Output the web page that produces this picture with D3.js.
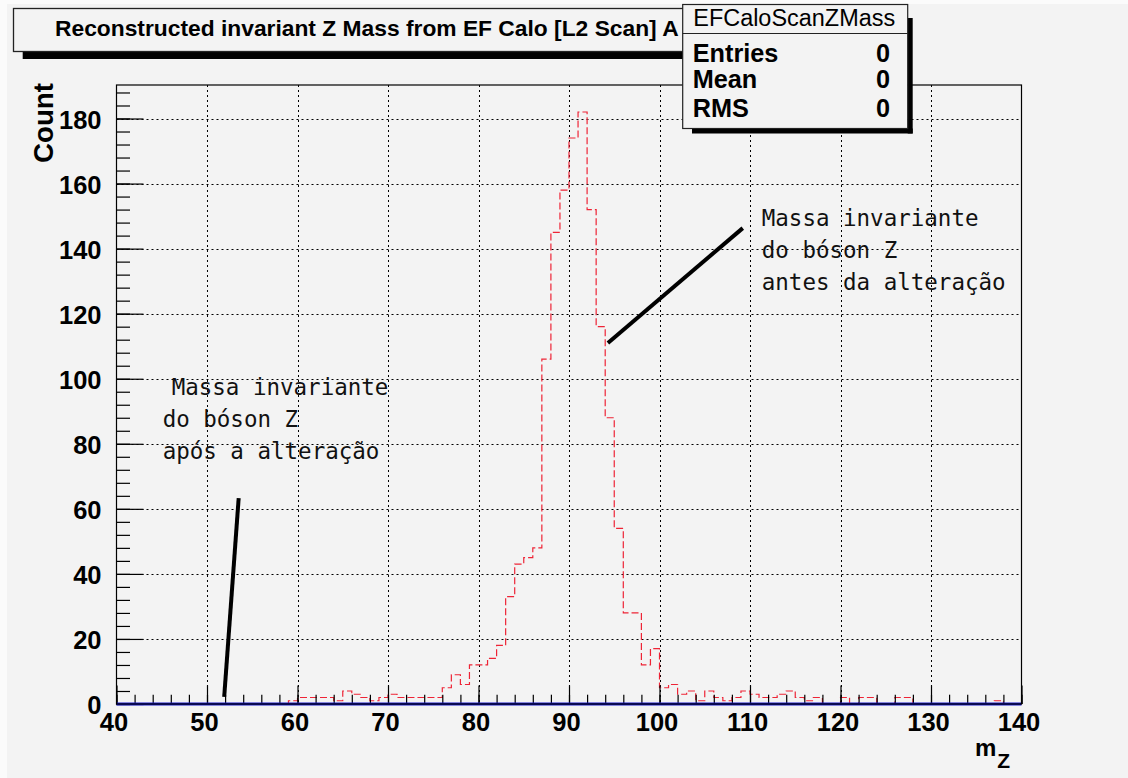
<!DOCTYPE html>
<html><head><meta charset="utf-8">
<script src="https://cdn.jsdelivr.net/npm/d3@7/dist/d3.min.js"></script>
<style>body{margin:0;background:#fff;overflow:hidden} svg{display:block}</style>
</head><body>
<svg id="c" width="1128" height="778"></svg>
<script>
// ---------------- data ----------------
const xDomain = [40, 140];
const yDomain = [0, 190.3];
const binStarts = d3.range(40, 140, 1); // 1-unit bins, lower edges
const redCounts = [
  0,0,0,0,0,0,0,0,0,0,
  0,0,0,0,0,0,0,0,0,1,
  2,2,2,2,1,4,3,2,1,2,
  3,2,2,2,2,2,5,9,6,12,
  12,14,18,33,43,45,48,106,145,158,
  174,182,152,116,88,54,28,28,12,17,
  5,6,3,4,1,4,2,1,2,4,
  3,2,2,3,4,2,1,2,0,0,
  2,0,2,2,0,0,2,2,0,0,
  0,0,0,0,0,0,0,1,0,0
];
const blueCounts = binStarts.map(() => 0);
const xMajorTicks = [40,50,60,70,80,90,100,110,120,130,140];
const xMinorTicks = d3.range(40, 141, 2);
const yMajorTicks = [0,20,40,60,80,100,120,140,160,180];
const yMinorTicks = d3.range(0, 190, 4);
const titleText = "Reconstructed invariant Z Mass from EF Calo [L2 Scan] A";
const statsName = "EFCaloScanZMass";
const statsLabels = ["Entries", "Mean", "RMS"];
const statsValues = ["0", "0", "0"];
const yTitle = "Count";
const xTitle = "m";
const xTitleSub = "Z";
const annAfter = { x: 45.1, y: 95, lines: ["Massa invariante", "do bóson Z", "após a alteração"], dx: [1, 0, 0],
                   line: [[51.9, 2.2], [53.5, 63.3]] };
const annBefore = { x: 111.3, y: 147, lines: ["Massa invariante", "do bóson Z", "antes da alteração"], dx: [0, 0, 0],
                    line: [[94.3, 111], [109.2, 146.3]] };

// ---------------- layout ----------------
const W = 1128, H = 778;
const L = 116.5, R = 1021.5, T = 85, B = 704;
const bg = "#f3f3f3";
const rootFont = "'Liberation Sans', Arial, Helvetica, sans-serif";
const monoFont = "'DejaVu Sans Mono', monospace";

const svg = d3.select("#c");
svg.append("rect").attr("width", W).attr("height", H).attr("fill", "#fbfbfb");
svg.append("rect").attr("x", 7).attr("y", 4).attr("width", W - 7).attr("height", H - 4).attr("fill", bg);

const x = d3.scaleLinear().domain(xDomain).range([L, R]);
const y = d3.scaleLinear().domain(yDomain).range([B, T]);

// grid
const grid = svg.append("g").attr("stroke", "#000").attr("stroke-width", 1).attr("stroke-dasharray", "2,3");
grid.selectAll("line.gx").data(xMajorTicks.filter(v => v > xDomain[0] && v < xDomain[1])).join("line")
  .attr("x1", d => Math.round(x(d)) + 0.5).attr("x2", d => Math.round(x(d)) + 0.5)
  .attr("y1", T).attr("y2", B);
grid.selectAll("line.gy").data(yMajorTicks.filter(v => v > 0)).join("line")
  .attr("y1", d => Math.round(y(d)) + 0.5).attr("y2", d => Math.round(y(d)) + 0.5)
  .attr("x1", L).attr("x2", R);

const stepLine = d3.line().x(d => x(d[0])).y(d => y(d[1])).curve(d3.curveStepAfter);

// red dashed histogram
const redStep = [[xDomain[0], 0]];
binStarts.forEach((b, i) => { redStep.push([b, redCounts[i]]); });
redStep.push([xDomain[1], redCounts[redCounts.length - 1]]);
svg.append("path").datum(redStep).attr("d", stepLine)
  .attr("fill", "none").attr("stroke", "#ee2436").attr("stroke-width", 1.2)
  .attr("stroke-dasharray", "7,3");

// blue empty histogram
const blueStep = binStarts.map((b, i) => [b, blueCounts[i]]);
blueStep.push([xDomain[1], blueCounts[blueCounts.length - 1]]);

// axes
const xTickMaj = 18.6, xTickMin = 9.3, yTickMaj = 27, yTickMin = 13.5;
const gxMin = svg.append("g").attr("transform", `translate(0,${B})`)
  .call(d3.axisBottom(x).tickValues(xMinorTicks).tickSize(-xTickMin).tickFormat(""));
const gx = svg.append("g").attr("transform", `translate(0,${B})`)
  .call(d3.axisBottom(x).tickValues(xMajorTicks).tickSize(-xTickMaj).tickPadding(9).tickFormat(d3.format("d")));
const gyMin = svg.append("g").attr("transform", `translate(${L},0)`)
  .call(d3.axisLeft(y).tickValues(yMinorTicks).tickSize(-yTickMin).tickFormat(""));
const gy = svg.append("g").attr("transform", `translate(${L},0)`)
  .call(d3.axisLeft(y).tickValues(yMajorTicks).tickSize(-yTickMaj).tickPadding(15).tickFormat(d3.format("d")));
[gx, gxMin, gy, gyMin].forEach(g => {
  g.select(".domain").remove();
  g.selectAll(".tick line").attr("stroke", "#000").attr("stroke-width", 1.2);
});
gx.selectAll(".tick text").attr("font-family", rootFont).attr("font-weight", "bold")
  .attr("font-size", 25.5).attr("fill", "#000").attr("dx", -3);
gy.selectAll(".tick text").attr("font-family", rootFont).attr("font-weight", "bold")
  .attr("font-size", 25.5).attr("fill", "#000").attr("dy", "0.38em");

// blue line over axis ticks at zero
svg.append("path").datum(blueStep).attr("d", stepLine)
  .attr("fill", "none").attr("stroke", "#1818cc").attr("stroke-width", 3);

// frame
svg.append("rect").attr("x", L).attr("y", T).attr("width", R - L).attr("height", B - T)
  .attr("fill", "none").attr("stroke", "#000").attr("stroke-width", 1.2);

function fit(sel, target) {
  const w = sel.node().getComputedTextLength();
  const fs = parseFloat(sel.attr("font-size"));
  sel.attr("font-size", fs * target / w);
  return fs * target / w;
}

// axis titles
const yt = svg.append("text").attr("transform", `translate(53,83) rotate(-90)`)
  .attr("text-anchor", "end").attr("font-family", rootFont).attr("font-weight", "bold")
  .attr("font-size", 26).attr("fill", "#000").text(yTitle);
fit(yt, 80);
const xt = svg.append("text").attr("x", 975).attr("y", 756)
  .attr("font-family", rootFont).attr("font-weight", "bold").attr("fill", "#000");
xt.append("tspan").attr("font-size", 24).text(xTitle);
xt.append("tspan").attr("font-size", 21).attr("dx", 1).attr("dy", 12).text(xTitleSub);

// annotations
function drawAnn(a) {
  svg.append("line").attr("x1", x(a.line[0][0])).attr("y1", y(a.line[0][1]))
    .attr("x2", x(a.line[1][0])).attr("y2", y(a.line[1][1]))
    .attr("stroke", "#000").attr("stroke-width", 4);
  const t = svg.append("g").attr("font-family", monoFont).attr("font-size", 22.5).attr("fill", "#111");
  a.lines.forEach((s, i) => {
    t.append("text").attr("x", x(a.x) + a.dx[i] * 9).attr("y", y(a.y) + i * 32).text(s);
  });
}
drawAnn(annAfter);
drawAnn(annBefore);

// title box
svg.append("rect").attr("x", 22.7).attr("y", 51.5).attr("width", 700).attr("height", 7.5).attr("fill", "#000");
svg.append("rect").attr("x", 13.5).attr("y", 8.5).attr("width", 700).attr("height", 43)
  .attr("fill", bg).attr("stroke", "#222").attr("stroke-width", 1.3);
const tt = svg.append("text").attr("x", 55).attr("y", 35.7).attr("font-family", rootFont)
  .attr("font-weight", "bold").attr("font-size", 19).attr("fill", "#000").text(titleText);
fit(tt, 624);

// stats box
const sx0 = 682.7, sx1 = 907.7, sy0 = 4.5, sy1 = 128.5;
svg.append("rect").attr("x", sx1).attr("y", 18).attr("width", 5).attr("height", sy1 - 18 + 5).attr("fill", "#000");
svg.append("rect").attr("x", 692).attr("y", sy1).attr("width", sx1 - 692 + 5).attr("height", 5).attr("fill", "#000");
svg.append("rect").attr("x", sx0).attr("y", sy0).attr("width", sx1 - sx0).attr("height", sy1 - sy0)
  .attr("fill", bg).attr("stroke", "#222").attr("stroke-width", 1.2);
svg.append("line").attr("x1", sx0).attr("x2", sx1).attr("y1", 33.5).attr("y2", 33.5)
  .attr("stroke", "#222").attr("stroke-width", 1.2);
const sh = svg.append("text").attr("x", (sx0 + sx1) / 2 - 1).attr("y", 26).attr("text-anchor", "middle")
  .attr("font-family", rootFont).attr("font-size", 20).attr("fill", "#000").text(statsName);
fit(sh, 202);
const rowY = [61.7, 88.3, 116.7];
const e0 = svg.append("text").attr("x", 692.7).attr("y", rowY[0]).attr("font-family", rootFont)
  .attr("font-weight", "bold").attr("font-size", 24).attr("fill", "#000").text(statsLabels[0]);
const fsRow = fit(e0, 85.7);
statsLabels.slice(1).forEach((s, i) => {
  svg.append("text").attr("x", 692.7).attr("y", rowY[i + 1]).attr("font-family", rootFont)
    .attr("font-weight", "bold").attr("font-size", fsRow).attr("fill", "#000").text(s);
});
statsValues.forEach((s, i) => {
  svg.append("text").attr("x", 890).attr("y", rowY[i]).attr("text-anchor", "end").attr("font-family", rootFont)
    .attr("font-weight", "bold").attr("font-size", fsRow).attr("fill", "#000").text(s);
});
</script>
</body></html>
